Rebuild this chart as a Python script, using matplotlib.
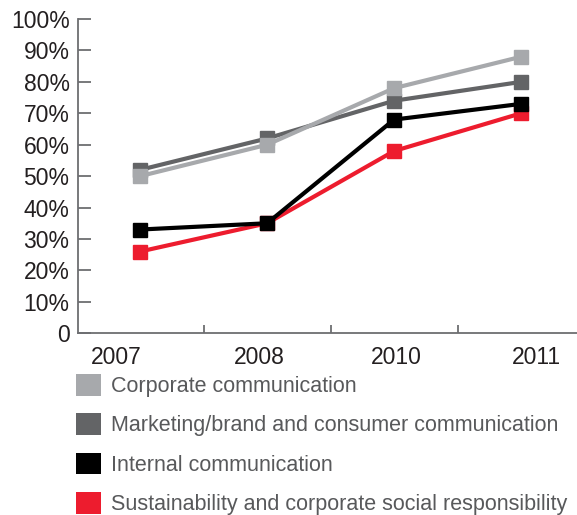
import matplotlib
matplotlib.use("Agg")
import matplotlib.pyplot as plt
from matplotlib.patches import Patch

plt.rcParams['font.family'] = ['Liberation Sans', 'DejaVu Sans']

years = ['2007', '2008', '2010', '2011']
series_names = ['Corporate communication',
                'Marketing/brand and consumer communication',
                'Internal communication',
                'Sustainability and corporate social responsibility']
corporate = [50, 60, 78, 88]
marketing = [52, 62, 74, 80]
internal = [33, 35, 68, 73]
sustainability = [26, 35, 58, 70]
colors = ['#a7a9ac', '#636466', '#000000', '#ed1c2e']
# year labels are not centred on the points in the original layout
label_shift = [-0.19, -0.06, 0.02, 0.12]

fig = plt.figure(figsize=(5.77, 5.15), dpi=100)
ax = fig.add_axes([0.135, 0.353, 0.865, 0.61])

x = list(range(len(years)))
# draw the bottom series first so the grey lines sit on top
for vals, c in [(sustainability, colors[3]), (internal, colors[2]),
                (marketing, colors[1]), (corporate, colors[0])]:
    ax.plot(x, vals, color=c, lw=3, marker='s', ms=10.5, mec=c, mfc=c,
            solid_joinstyle='miter')

ax.set_ylim(0, 100)
ax.set_xlim(-0.49, 3.44)
ax.set_yticks(range(0, 101, 10))
ax.set_yticklabels(['0'] + ['%d%%' % v for v in range(10, 101, 10)])
ax.set_xticks([i + d for i, d in zip(x, label_shift)])
ax.set_xticklabels(years)
ax.set_xticks([0.5, 1.5, 2.5], minor=True)

axis_col = '#6d6e71'
text_col = '#231f20'
for s in ['top', 'right']:
    ax.spines[s].set_visible(False)
for s in ['left', 'bottom']:
    ax.spines[s].set_color(axis_col)
    ax.spines[s].set_linewidth(1.3)
ax.tick_params(axis='y', direction='in', length=9, width=1.3, color=axis_col,
               labelsize=16.5, labelcolor=text_col, pad=6)
ax.tick_params(axis='x', which='major', length=0, labelsize=16.5,
               labelcolor=text_col, pad=9)
ax.tick_params(axis='x', which='minor', direction='in', length=6, width=1.3,
               color=axis_col)

handles = [Patch(facecolor=c, edgecolor='none') for c in colors]
leg = fig.legend(handles, series_names, loc='upper left',
                 bbox_to_anchor=(76 / 577, 1 - 374 / 515), frameon=False,
                 fontsize=15.5, handlelength=1.16, handleheight=1.16,
                 handletextpad=0.45, labelspacing=0.76, borderpad=0,
                 borderaxespad=0)
for t in leg.get_texts():
    t.set_color('#58595b')

fig.savefig('out.png', dpi=100)
